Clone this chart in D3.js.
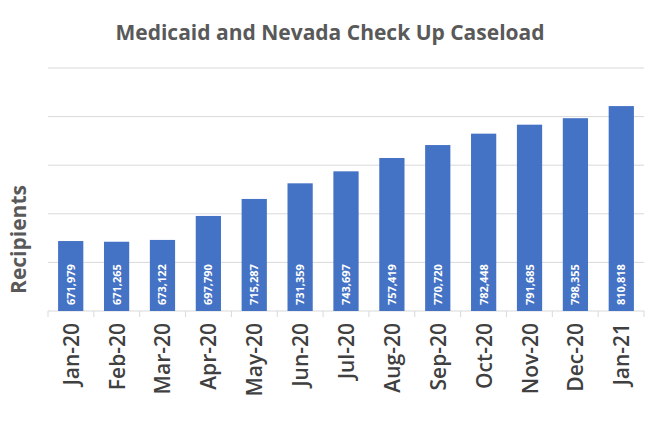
<!DOCTYPE html>
<html>
<head>
<meta charset="utf-8">
<script src="https://cdn.jsdelivr.net/npm/d3@7"></script>
<style>
  body { margin: 0; background: #fff; }
  text { font-family: "Open Sans", sans-serif; }
</style>
</head>
<body>
<div id="chart"></div>
<script>
const months = ["Jan-20","Feb-20","Mar-20","Apr-20","May-20","Jun-20","Jul-20","Aug-20","Sep-20","Oct-20","Nov-20","Dec-20","Jan-21"];
const recipients = [671979, 671265, 673122, 697790, 715287, 731359, 743697, 757419, 770720, 782448, 791685, 798355, 810818];
const gridTicks = [600000, 650000, 700000, 750000, 800000, 850000];

const width = 660, height = 426;
const margin = { top: 68, right: 16, bottom: 115, left: 48 };

const svg = d3.select("#chart").append("svg")
    .attr("width", width)
    .attr("height", height);

const x = d3.scaleBand()
    .domain(months)
    .range([margin.left, width - margin.right])
    .paddingInner(0.45)
    .paddingOuter(0.22);

const y = d3.scaleLinear()
    .domain([600000, 850000])
    .range([height - margin.bottom, margin.top]);

// gridlines
svg.append("g")
    .selectAll("line")
    .data(gridTicks)
    .enter().append("line")
    .attr("x1", margin.left)
    .attr("x2", width - margin.right)
    .attr("y1", d => y(d))
    .attr("y2", d => y(d))
    .attr("stroke", "#d9d9d9")
    .attr("stroke-width", 1);

// tick marks between categories on baseline
svg.append("g")
    .selectAll("line")
    .data(d3.range(months.length + 1))
    .enter().append("line")
    .attr("x1", i => margin.left + i * (width - margin.left - margin.right) / months.length)
    .attr("x2", i => margin.left + i * (width - margin.left - margin.right) / months.length)
    .attr("y1", y(600000))
    .attr("y2", y(600000) + 6)
    .attr("stroke", "#d9d9d9");

// bars
svg.append("g")
    .selectAll("rect")
    .data(recipients)
    .enter().append("rect")
    .attr("x", (d, i) => x(months[i]))
    .attr("width", x.bandwidth())
    .attr("y", d => y(d))
    .attr("height", d => y(600000) - y(d))
    .attr("fill", "#4472c4");

// value labels
svg.append("g")
    .selectAll("text")
    .data(recipients)
    .enter().append("text")
    .attr("transform", (d, i) => `translate(${x(months[i]) + x.bandwidth() / 2 + 4}, ${y(600000) - 6}) rotate(-90)`)
    .attr("fill", "#fff")
    .style("font-size", "11px")
    .style("font-weight", "bold")
    .text(d => d3.format(",")(d));

// x labels
svg.append("g")
    .selectAll("text")
    .data(months)
    .enter().append("text")
    .attr("transform", d => `translate(${x(d) + x.bandwidth() / 2 + 8}, ${y(600000) + 12}) rotate(-90)`)
    .attr("text-anchor", "end")
    .attr("fill", "#404040")
    .style("font-size", "21px")
    .style("font-weight", "600")
    .text(d => d);

// y title
svg.append("text")
    .attr("transform", `translate(26, ${(margin.top + height - margin.bottom) / 2 + 50}) rotate(-90)`)
    .attr("text-anchor", "middle")
    .attr("fill", "#595959")
    .style("font-size", "21px")
    .style("font-weight", "bold")
    .text("Recipients");

// title
svg.append("text")
    .attr("x", width / 2)
    .attr("y", 40)
    .attr("text-anchor", "middle")
    .attr("fill", "#595959")
    .style("font-size", "21px")
    .style("font-weight", "bold")
    .text("Medicaid and Nevada Check Up Caseload");
</script>
</body>
</html>
